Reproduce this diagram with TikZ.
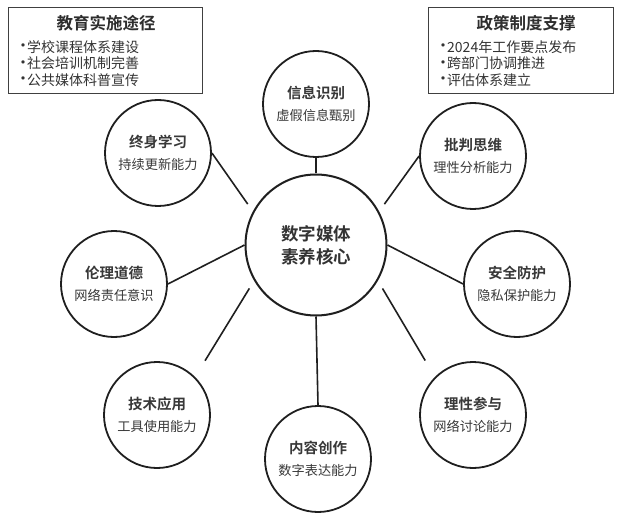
\documentclass[tikz,border=0pt]{standalone}
\usepackage{fontspec}
\setmainfont{Noto Sans CJK SC}[BoldFont={Noto Sans CJK SC Bold}]
\begin{document}
\begin{tikzpicture}[x=1pt,y=-1pt,
  sat/.style={circle,draw=black!88,line width=1.8pt,minimum size=106pt,inner sep=0pt,align=center,
    font=\fontsize{13.2}{22}\selectfont,text=black!78},
  core/.style={circle,draw=black!88,line width=2pt,minimum size=141pt,inner sep=0pt,align=center,
    font=\fontsize{17.5}{23}\selectfont\bfseries,text=black!80},
  spoke/.style={draw=black!88,line width=1.6pt},
  infobox/.style={draw=black!75,line width=1pt,inner sep=0pt},
  boxtitle/.style={font=\fontsize{16.5}{20}\selectfont\bfseries,text=black!82},
  boxlist/.style={anchor=west,inner sep=0pt,align=left,font=\fontsize{14}{16.5}\selectfont,text=black!80}
]
\useasboundingbox (0,0) rectangle (621,513);
\newcommand{\sattext}[2]{{\fontsize{14.5}{22}\selectfont\bfseries #1}\\#2}
\newcommand{\bitem}[1]{\makebox[12pt][l]{\raisebox{0.5pt}{\fontsize{16}{16}\selectfont •}}#1}

% boxes
\node[infobox,minimum width=194pt,minimum height=86pt] (bl) at (105,51) {};
\node[infobox,minimum width=185pt,minimum height=86pt] (br) at (520.5,51) {};
\node[boxtitle] (blt) at (106,23) {教育实施途径};
\node[boxlist] (bll) at (15,63.5) {\bitem{学校课程体系建设}\\\bitem{社会培训机制完善}\\\bitem{公共媒体科普宣传}};
\node[boxtitle] (brt) at (526,23) {政策制度支撑};
\node[boxlist] (brl) at (435,63.5) {\bitem{2024年工作要点发布}\\\bitem{跨部门协调推进}\\\bitem{评估体系建立}};

% core
\node[core] (c) at (316,245) {数字媒体\\素养核心};

% satellites
\node[sat] (s1) at (316,104) {\sattext{信息识别}{虚假信息甄别}};
\node[sat] (s2) at (473,156) {\sattext{批判思维}{理性分析能力}};
\node[sat] (s3) at (517,284) {\sattext{安全防护}{隐私保护能力}};
\node[sat] (s4) at (473,415) {\sattext{理性参与}{网络讨论能力}};
\node[sat] (s5) at (318,459) {\sattext{内容创作}{数字表达能力}};
\node[sat] (s6) at (157,415) {\sattext{技术应用}{工具使用能力}};
\node[sat] (s7) at (114,284) {\sattext{伦理道德}{网络责任意识}};
\node[sat] (s8) at (158,153) {\sattext{终身学习}{持续更新能力}};

% spokes
\draw[spoke] (c.north) -- (s1.south);
\draw[spoke,shorten <=9pt] (c.28) -- (s2.west);
\draw[spoke] (c.east) -- (s3.west);
\draw[spoke,shorten <=9pt,shorten >=19pt] (c.-30) -- (s4.135);
\draw[spoke] (c.south) -- (s5.north);
\draw[spoke,shorten <=9pt,shorten >=19pt] (c.-150) -- (s6.45);
\draw[spoke] (c.west) -- (s7.east);
\draw[spoke,shorten <=9pt] (c.152) -- (s8.east);
\end{tikzpicture}
\end{document}
